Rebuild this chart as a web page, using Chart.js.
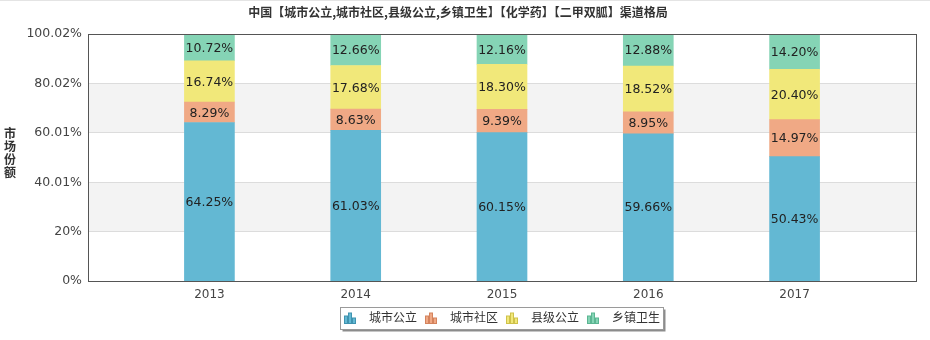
<!DOCTYPE html>
<html>
<head>
<meta charset="utf-8">
<style>
  html, body { margin: 0; padding: 0; background: #fff; }
  #wrap { width: 930px; height: 340px; }
</style>
<script src="https://cdn.jsdelivr.net/npm/chart.js@4/dist/chart.umd.min.js"></script>
</head>
<body>
<div id="wrap"><canvas id="channelChart" width="930" height="340"></canvas></div>
<script>
const years = [2013, 2014, 2015, 2016, 2017];
const seriesNames = ["城市公立", "城市社区", "县级公立", "乡镇卫生"];
const cityPublic = [64.25, 61.03, 60.15, 59.66, 50.43];
const cityCommunity = [8.29, 8.63, 9.39, 8.95, 14.97];
const countyPublic = [16.74, 17.68, 18.30, 18.52, 20.40];
const townshipClinic = [10.72, 12.66, 12.16, 12.88, 14.20];
const yMax = 100.02;
const yTickLabels = ["0%", "20%", "40.01%", "60.01%", "80.02%", "100.02%"];
const chartTitle = "中国【城市公立,城市社区,县级公立,乡镇卫生】【化学药】【二甲双胍】渠道格局";
const yTitle = "市场份额";

const seriesValues = [cityPublic, cityCommunity, countyPublic, townshipClinic];
const fills = ["#63b8d3", "#f0a985", "#f1e87a", "#85d4b5"];
const edges = ["#3f93b0", "#d4835d", "#cfc24a", "#5bb592"];

const NUM_FONT = "'DejaVu Sans', sans-serif";
const CJK_FONT = "'Noto Sans CJK SC', 'Noto Sans', sans-serif";

// little bar-chart glyph used as the legend marker
function makeLegendIcon(fill, edge) {
    const c = document.createElement("canvas");
    c.width = 19;
    c.height = 13;
    const g = c.getContext("2d");
    const bars = [[0.5, 5, 3, 7.5], [4.5, 2, 3, 10.5], [8.5, 7, 3, 5.5]];
    bars.forEach(([x, y, w, h]) => {
        g.fillStyle = fill;
        g.fillRect(x, y, w, h);
        g.strokeStyle = edge;
        g.lineWidth = 1;
        g.strokeRect(x, y, w, h);
    });
    return c;
}

const icons = fills.map((f, i) => makeLegendIcon(f, edges[i]));

const chromePlugin = {
    id: "chrome",
    afterLayout(chart) {
        // centre the legend under the plot area and lift it a little
        const legend = chart.legend;
        const ca = chart.chartArea;
        const shift = (ca.left + ca.right) / 2 - (legend.left + legend.right) / 2;
        legend.left += shift;
        legend.right += shift;
        legend.top -= 6;
        legend.bottom -= 6;
    },
    beforeDraw(chart) {
        const ctx = chart.ctx;
        ctx.save();
        ctx.fillStyle = "#e4e4e4";
        ctx.fillRect(0, 0, chart.width, 1);

        // legend frame with drop shadow
        const boxes = chart.legend.legendHitBoxes;
        if (boxes && boxes.length) {
            const first = boxes[0];
            const last = boxes[boxes.length - 1];
            const cy = chart.legend.top + chart.options.plugins.legend.labels.padding + 6;
            const x0 = Math.round(first.left) - 3.5;
            const x1 = Math.round(last.left + last.width) + 3.5;
            const y0 = Math.round(cy - 11) + 0.5;
            const y1 = Math.round(cy + 11) + 0.5;
            ctx.fillStyle = "rgba(0,0,0,0.45)";
            ctx.fillRect(x0 + 2, y0 + 2, x1 - x0, y1 - y0);
            ctx.fillStyle = "#fff";
            ctx.fillRect(x0, y0, x1 - x0, y1 - y0);
            ctx.strokeStyle = "#9a9a9a";
            ctx.lineWidth = 1;
            ctx.strokeRect(x0, y0, x1 - x0, y1 - y0);
        }

        // alternating grey bands in the plot
        const y = chart.scales.y;
        const ca = chart.chartArea;
        ctx.fillStyle = "#f3f3f3";
        [[3, 4], [1, 2]].forEach(([a, b]) => {
            const top = y.getPixelForValue(y.ticks[b].value);
            const bottom = y.getPixelForValue(y.ticks[a].value);
            ctx.fillRect(ca.left, top, ca.right - ca.left, bottom - top);
        });
        ctx.restore();
    },
    afterDatasetsDraw(chart) {
        const ctx = chart.ctx;
        ctx.save();
        ctx.font = `12.5px ${NUM_FONT}`;
        ctx.fillStyle = "#222";
        ctx.textAlign = "center";
        ctx.textBaseline = "middle";
        chart.data.datasets.forEach((ds, i) => {
            const meta = chart.getDatasetMeta(i);
            meta.data.forEach((bar, j) => {
                const v = seriesValues[i][j];
                ctx.fillText(v.toFixed(2) + "%", bar.x, (bar.y + bar.base) / 2 + 1);
            });
        });

        // plot frame
        const ca = chart.chartArea;
        ctx.strokeStyle = "#555";
        ctx.lineWidth = 1;
        ctx.strokeRect(Math.round(ca.left) + 0.5, Math.round(ca.top) + 0.5,
            Math.round(ca.right - ca.left), Math.round(ca.bottom - ca.top));

        // vertical axis title, one character per line
        ctx.font = `bold 12px ${CJK_FONT}`;
        ctx.fillStyle = "#333";
        [...yTitle].forEach((ch, k) => {
            ctx.fillText(ch, 10, 133 + k * 13.3);
        });
        ctx.restore();
    }
};

new Chart(document.getElementById("channelChart"), {
    type: "bar",
    data: {
        datasets: seriesNames.map((name, i) => ({
            label: name,
            data: years.map((yr, j) => ({ x: yr, y: seriesValues[i][j] })),
            backgroundColor: fills[i],
            borderWidth: 0,
            barThickness: 50,
            pointStyle: icons[i]
        }))
    },
    options: {
        responsive: false,
        animation: false,
        layout: { padding: { left: 0, right: 14, top: 0, bottom: 0.5 } },
        scales: {
            x: {
                type: "linear",
                stacked: true,
                offset: false,
                min: 2012.17,
                max: 2017.83,
                afterBuildTicks(scale) {
                    scale.ticks = years.map((v) => ({ value: v }));
                },
                grid: { display: false, drawTicks: false, offset: false },
                border: { display: false },
                ticks: {
                    padding: 7,
                    color: "#444",
                    font: { family: NUM_FONT, size: 12 },
                    callback: (v) => String(v)
                }
            },
            y: {
                stacked: true,
                min: 0,
                max: yMax,
                afterBuildTicks(scale) {
                    scale.ticks = yTickLabels.map((_, i) => ({ value: (yMax / 5) * i }));
                },
                afterFit(scale) {
                    scale.width = 88;
                },
                grid: { color: "#dcdcdc", drawTicks: false },
                border: { display: false },
                ticks: {
                    padding: 6,
                    color: "#444",
                    font: { family: NUM_FONT, size: 12.5 },
                    callback: (v, i) => yTickLabels[i]
                }
            }
        },
        plugins: {
            title: {
                display: true,
                text: chartTitle,
                color: "#333",
                font: { family: CJK_FONT, size: 12, weight: "bold" },
                padding: { top: 4.8, bottom: 15 }
            },
            legend: {
                position: "bottom",
                labels: {
                    usePointStyle: true,
                    pointStyleWidth: 19,
                    padding: 8,
                    color: "#333",
                    font: { family: CJK_FONT, size: 12 }
                }
            },
            tooltip: { enabled: false }
        }
    },
    plugins: [chromePlugin]
});
</script>
</body>
</html>
